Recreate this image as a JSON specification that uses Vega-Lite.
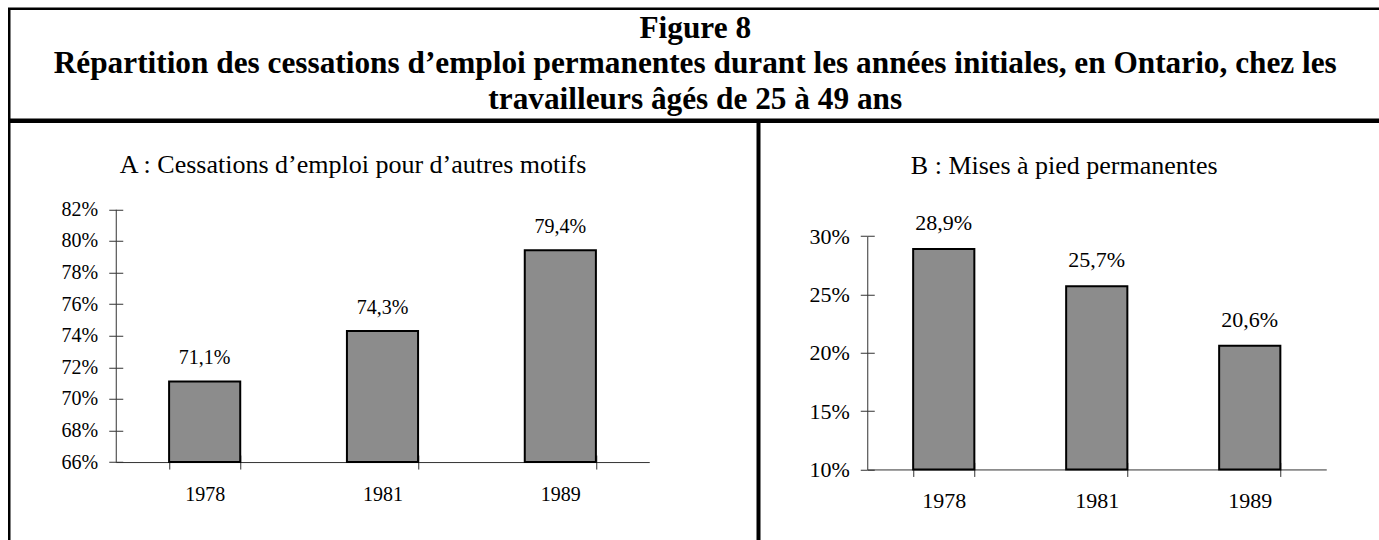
{
  "$schema": "https://vega.github.io/schema/vega-lite/v6.json",
  "padding": {"left": 7.25, "top": 6.75, "right": 0, "bottom": 0},
  "background": "white",
  "config": {
    "locale": {"number": {"decimal": ",", "thousands": " ", "grouping": [3], "currency": ["", " $"]}},
    "font": "Liberation Serif",
    "view": {"stroke": null},
    "axis": {"labelFont": "Liberation Serif", "labelColor": "black", "domainColor": "#333333", "tickColor": "#333333", "grid": false, "title": null}
  },
  "datasets": {
    "header": [
      {"line": 1, "text": "Figure 8"},
      {"line": 2, "text": "Répartition des cessations d’emploi permanentes durant les années initiales, en Ontario, chez les"},
      {"line": 3, "text": "travailleurs âgés de 25 à 49 ans"}
    ],
    "a": [
      {"year": "1978", "share": 0.711},
      {"year": "1981", "share": 0.743},
      {"year": "1989", "share": 0.794}
    ],
    "b": [
      {"year": "1978", "share": 0.289},
      {"year": "1981", "share": 0.257},
      {"year": "1989", "share": 0.206}
    ]
  },
  "vconcat": [
    {
      "width": 1372,
      "height": 111,
      "view": {"stroke": "black", "strokeWidth": 2.5},
      "data": {"name": "header"},
      "mark": {"type": "text", "font": "Liberation Serif", "fontWeight": "bold", "fontSize": 31.3, "baseline": "alphabetic", "align": "center", "color": "black"},
      "encoding": {
        "y": {"field": "line", "type": "ordinal", "axis": null, "scale": {"type": "point", "padding": 0.56, "align": 0.73}},
        "text": {"field": "text"}
      }
    },
    {
      "hconcat": [
        {
          "width": 748.5,
          "height": 423,
          "view": {"stroke": "black", "strokeWidth": 2.5},
          "data": {"name": "a"},
          "title": {"text": "A : Cessations d’emploi pour d’autres motifs", "font": "Liberation Serif", "fontSize": 26, "fontWeight": "normal", "color": "black", "baseline": "alphabetic", "anchor": "middle", "frame": "group", "offset": -77, "dx": -30.5},
          "resolve": {"axis": {"x": "independent", "y": "independent"}},
          "layer": [
            {
              "mark": {"type": "bar", "fill": "#8c8c8c", "stroke": "black", "strokeWidth": 2},
              "encoding": {
                "x": {"field": "year", "type": "nominal", "sort": null, "scale": {"range": [106.5, 640], "paddingInner": 0.6, "paddingOuter": 0.3}, "axis": {"orient": "bottom", "offset": -82.7, "labelAngle": 0, "tickBand": "extent", "tickSize": 7, "labelPadding": 15.5, "labelFontSize": 20}},
                "y": {"field": "share", "type": "quantitative", "scale": {"domain": [0.66, 0.82], "range": [340.3, 87.5], "zero": false, "nice": false}, "axis": {"orient": "left", "offset": -106.5, "values": [0.66, 0.68, 0.70, 0.72, 0.74, 0.76, 0.78, 0.80, 0.82], "format": ".0%", "tickSize": 7, "labelPadding": 11, "labelFontSize": 20}},
                "y2": {"datum": 0.66}
              }
            },
            {
              "mark": {"type": "text", "dy": -17, "baseline": "alphabetic", "fontSize": 20, "font": "Liberation Serif", "color": "black"},
              "encoding": {
                "x": {"field": "year", "type": "nominal", "sort": null, "scale": {"range": [106.5, 640], "paddingInner": 0.6, "paddingOuter": 0.3}, "axis": {"orient": "top", "offset": -340.3, "labels": false, "domain": false, "tickBand": "extent", "tickSize": 7}},
                "y": {"field": "share", "type": "quantitative", "scale": {"domain": [0.66, 0.82], "range": [340.3, 87.5], "zero": false, "nice": false}, "axis": {"orient": "right", "offset": -642, "labels": false, "domain": false, "values": [0.66, 0.68, 0.70, 0.72, 0.74, 0.76, 0.78, 0.80, 0.82], "tickSize": 7}},
                "text": {"field": "share", "type": "quantitative", "format": ".1%"}
              }
            }
          ]
        },
        {
          "width": 623.5,
          "height": 423,
          "view": {"stroke": "black", "strokeWidth": 2.5},
          "data": {"name": "b"},
          "title": {"text": "B : Mises à pied permanentes", "font": "Liberation Serif", "fontSize": 26, "fontWeight": "normal", "color": "black", "baseline": "alphabetic", "anchor": "middle", "frame": "group", "offset": -78, "dx": -6.75},
          "resolve": {"axis": {"x": "independent", "y": "independent"}},
          "layer": [
            {
              "mark": {"type": "bar", "fill": "#8c8c8c", "stroke": "black", "strokeWidth": 2},
              "encoding": {
                "x": {"field": "year", "type": "nominal", "sort": null, "scale": {"range": [108, 567], "paddingInner": 0.6, "paddingOuter": 0.3}, "axis": {"orient": "bottom", "offset": -75.3, "labelAngle": 0, "tickBand": "extent", "tickSize": 7, "labelPadding": 13.9, "labelFontSize": 22}},
                "y": {"field": "share", "type": "quantitative", "scale": {"domain": [0.10, 0.30], "range": [347.7, 114.3], "zero": false, "nice": false}, "axis": {"orient": "left", "offset": -108, "values": [0.10, 0.15, 0.20, 0.25, 0.30], "format": ".0%", "tickSize": 7, "labelPadding": 11, "labelFontSize": 22}},
                "y2": {"datum": 0.10}
              }
            },
            {
              "mark": {"type": "text", "dy": -19, "baseline": "alphabetic", "fontSize": 22, "font": "Liberation Serif", "color": "black"},
              "encoding": {
                "x": {"field": "year", "type": "nominal", "sort": null, "scale": {"range": [108, 567], "paddingInner": 0.6, "paddingOuter": 0.3}, "axis": {"orient": "top", "offset": -347.7, "labels": false, "domain": false, "tickBand": "extent", "tickSize": 7}},
                "y": {"field": "share", "type": "quantitative", "scale": {"domain": [0.10, 0.30], "range": [347.7, 114.3], "zero": false, "nice": false}, "axis": {"orient": "right", "offset": -515.5, "labels": false, "domain": false, "values": [0.10, 0.15, 0.20, 0.25, 0.30], "tickSize": 7}},
                "text": {"field": "share", "type": "quantitative", "format": ".1%"}
              }
            }
          ]
        }
      ],
      "spacing": -2.5
    }
  ],
  "spacing": -2.5
}
